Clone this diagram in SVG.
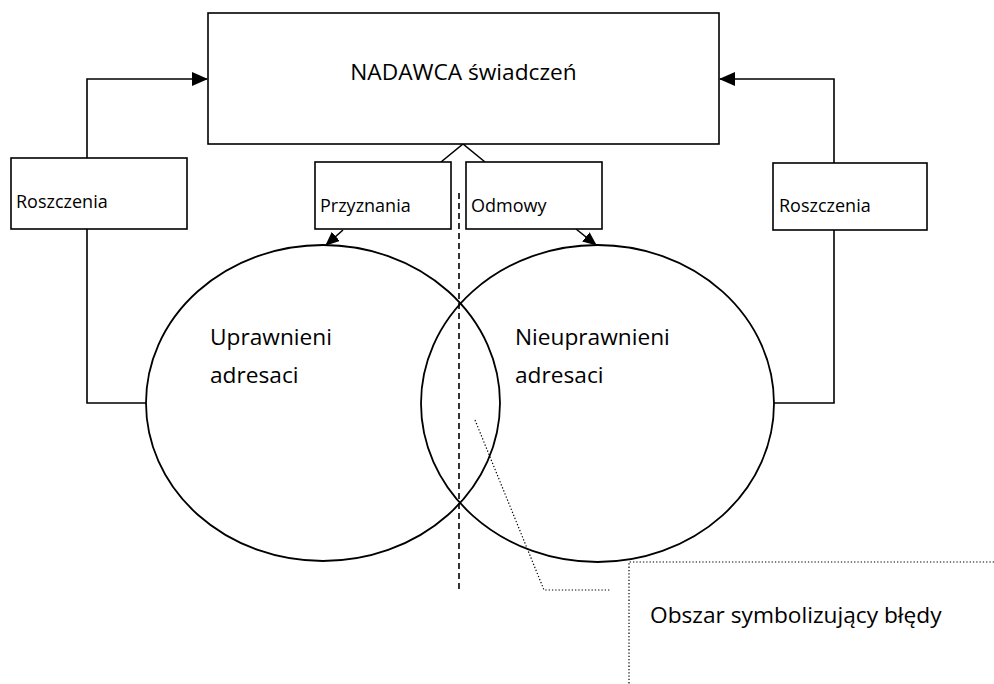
<svg xmlns="http://www.w3.org/2000/svg" width="994" height="684" viewBox="0 0 994 684">
<style>
.box{fill:#fff;stroke:#000;stroke-width:1.6}
.ell{fill:none;stroke:#000;stroke-width:1.8}
.ln{fill:none;stroke:#000;stroke-width:1.6}
.dash{fill:none;stroke:#000;stroke-width:1.6;stroke-dasharray:6 4}
.dot{fill:none;stroke:#000;stroke-width:1.2;stroke-dasharray:1.3 2}
text{font-family:"Open Sans","Noto Sans","Liberation Sans",sans-serif;fill:#000}
.lg{font-size:22.7px}
.sm{font-size:18px}
</style>
<defs>
<marker id="arr" markerWidth="16" markerHeight="14" refX="15" refY="7" orient="auto" markerUnits="userSpaceOnUse">
<path d="M0,0 L16,7 L0,14 Z" fill="#000"/>
</marker>
<marker id="arrs" markerWidth="14" markerHeight="12" refX="13" refY="6" orient="auto" markerUnits="userSpaceOnUse">
<path d="M0,0 L14,6 L0,12 Z" fill="#000"/>
</marker>
</defs>
<rect width="994" height="684" fill="#fff"/>
<g id="connectors">
<path class="ln" d="M87,158 V79 H207" marker-end="url(#arr)"/>
<path class="ln" d="M87,229 V403 H146"/>
<path class="ln" d="M834,163 V79 H720" marker-end="url(#arr)"/>
<path class="ln" d="M834,230 V403 H774"/>
<path class="ln" d="M441,162 L463,144 L485,162"/>
<path class="ln" d="M343,230 L326,245" marker-end="url(#arrs)"/>
<path class="ln" d="M576,229 L596,245" marker-end="url(#arrs)"/>
<path class="dash" d="M459,193 V591"/>
<path class="dot" d="M475,420 L544,590 H611"/>
<path class="dot" d="M994,562 H629 V684"/>
</g>
<g id="nadawca">
<rect class="box" x="208" y="13" width="511" height="131"/>
<text class="lg" x="463.5" y="80" text-anchor="middle" font-size="22">NADAWCA świadczeń</text>
</g>
<g id="roszczenia-left">
<rect class="box" x="11" y="158" width="176" height="71"/>
<text class="sm" x="16" y="208">Roszczenia</text>
</g>
<g id="roszczenia-right">
<rect class="box" x="773" y="163" width="154" height="67"/>
<text class="sm" x="779" y="212">Roszczenia</text>
</g>
<g id="przyznania">
<rect class="box" x="315" y="162" width="136" height="67"/>
<text class="sm" x="320" y="212">Przyznania</text>
</g>
<g id="odmowy">
<rect class="box" x="466" y="162" width="136" height="67"/>
<text class="sm" x="471" y="212">Odmowy</text>
</g>
<g id="uprawnieni">
<ellipse class="ell" cx="323" cy="403" rx="177" ry="158"/>
<text class="lg" x="210" y="345">Uprawnieni</text>
<text class="lg" x="210" y="383">adresaci</text>
</g>
<g id="nieuprawnieni">
<ellipse class="ell" cx="597.5" cy="403.5" rx="176.5" ry="158.5"/>
<text class="lg" x="515" y="345">Nieuprawnieni</text>
<text class="lg" x="515" y="383">adresaci</text>
</g>
<g id="bledy">
<text class="lg" x="650" y="623">Obszar symbolizujący błędy</text>
</g>
</svg>
